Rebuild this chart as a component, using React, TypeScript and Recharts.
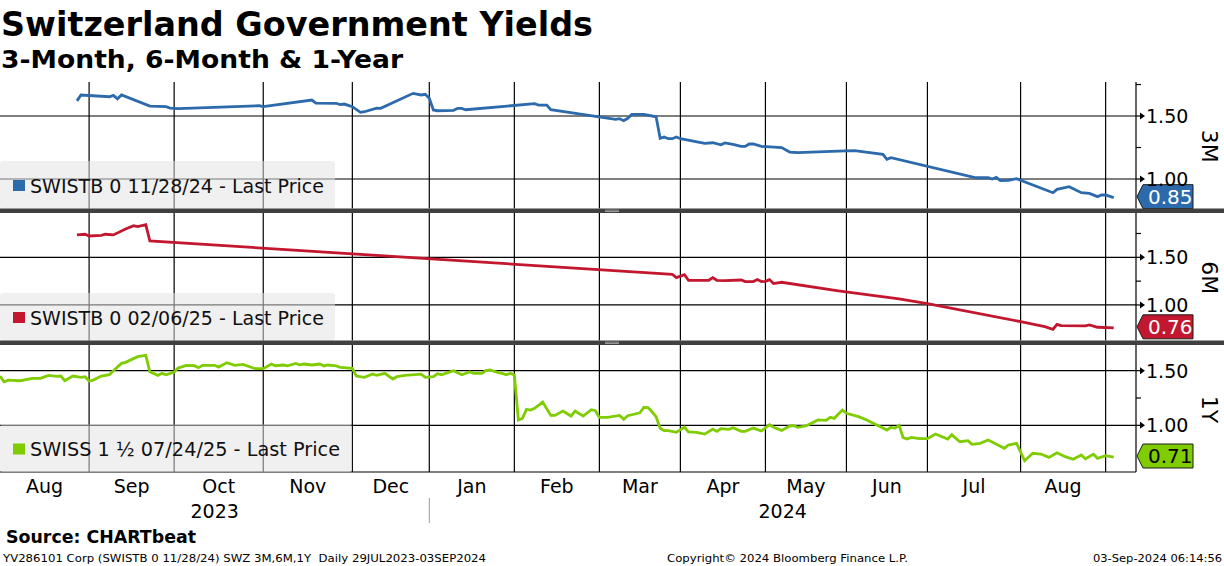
import { LineChart, Line, XAxis, YAxis, ReferenceLine } from "recharts";

const FONT = "'DejaVu Sans', Verdana, sans-serif";

// trading-day index (0 = 31 Jul 2023); first trading day of each month
const monthStarts = [0, 22, 43, 65, 87, 106, 127, 148, 168, 189, 209, 229, 252, 273];
const monthNames = ["Aug", "Sep", "Oct", "Nov", "Dec", "Jan", "Feb", "Mar", "Apr", "May", "Jun", "Jul", "Aug"];
const yearStarts = [0, 106];
const yearNames = ["2023", "2024"];
const dayEnd = 280.5;

// SWISTB 0 11/28/24 (3M) - [trading day, yield]
const m3Points: [number, number][] = [
  [19, 1.62], [20, 1.667], [27, 1.653], [28, 1.664], [29, 1.637], [30, 1.667],
  [37, 1.579], [41, 1.574], [42, 1.563], [44, 1.558], [64, 1.582], [65, 1.574],
  [77, 1.627], [78, 1.603], [83, 1.601], [84, 1.59], [85, 1.595], [87, 1.574],
  [89, 1.529], [90, 1.534], [93, 1.563], [94, 1.561], [102, 1.68], [104, 1.667],
  [105, 1.672], [106, 1.64], [107, 1.548], [108, 1.542], [112, 1.545], [113, 1.561],
  [114, 1.561], [115, 1.55], [132, 1.598], [133, 1.587], [135, 1.587], [136, 1.55],
  [152, 1.474], [153, 1.479], [154, 1.463], [155, 1.482], [156, 1.513], [159, 1.513],
  [162, 1.494], [163, 1.323], [164, 1.333], [165, 1.32], [166, 1.32], [167, 1.333],
  [168, 1.32], [174, 1.283], [176, 1.288], [178, 1.272], [179, 1.286], [181, 1.275],
  [183, 1.259], [184, 1.259], [185, 1.278], [186, 1.278], [188, 1.259], [193, 1.249],
  [195, 1.214], [197, 1.209], [207, 1.222], [211, 1.225], [218, 1.196], [219, 1.156],
  [220, 1.169], [241, 1.01], [244, 1.01], [245, 1.0], [246, 1.013], [247, 0.987],
  [249, 0.99], [251, 1.003], [260, 0.891], [261, 0.918], [264, 0.939], [267, 0.891],
  [269, 0.886], [271, 0.86], [272, 0.873], [273, 0.873], [275, 0.852],
];

// SWISTB 0 02/06/25 (6M)
const m6Points: [number, number][] = [
  [19, 1.735], [21, 1.742], [22, 1.724], [25, 1.731], [26, 1.742], [28, 1.735],
  [31, 1.797], [33, 1.832], [34, 1.822], [36, 1.843], [37, 1.672], [166, 1.322],
  [167, 1.287], [169, 1.318], [170, 1.259], [175, 1.259], [176, 1.287], [177, 1.259],
  [179, 1.255], [183, 1.262], [184, 1.245], [186, 1.245], [187, 1.266], [188, 1.245],
  [189, 1.248], [190, 1.266], [191, 1.224], [193, 1.238], [207, 1.147], [222, 1.063],
  [229, 1.014], [252, 0.825], [258, 0.772], [260, 0.745], [261, 0.797], [262, 0.783],
  [268, 0.78], [269, 0.79], [271, 0.766], [275, 0.76],
];

// SWISS 1 1/2 07/24/25 (1Y)
const y1Points: [number, number][] = [
  [0, 1.451], [1, 1.399], [2, 1.414], [5, 1.408], [8, 1.43], [10, 1.43], [12, 1.457],
  [14, 1.448], [15, 1.451], [16, 1.408], [18, 1.451], [20, 1.439], [21, 1.445],
  [22, 1.405], [23, 1.414], [25, 1.451], [27, 1.463], [28, 1.5], [30, 1.567],
  [31, 1.576], [34, 1.628], [36, 1.64], [37, 1.49], [39, 1.457], [40, 1.476],
  [41, 1.463], [43, 1.488], [44, 1.524], [46, 1.549], [48, 1.546], [49, 1.527],
  [50, 1.549], [53, 1.549], [54, 1.533], [56, 1.573], [58, 1.549], [60, 1.558],
  [63, 1.518], [65, 1.518], [67, 1.561], [68, 1.545], [70, 1.552], [71, 1.545],
  [73, 1.567], [74, 1.554], [75, 1.561], [77, 1.552], [79, 1.561], [80, 1.543],
  [81, 1.552], [83, 1.543], [84, 1.531], [87, 1.521], [88, 1.451], [90, 1.439],
  [92, 1.469], [93, 1.457], [95, 1.476], [97, 1.424], [98, 1.445], [100, 1.457],
  [104, 1.469], [105, 1.439], [107, 1.445], [108, 1.472], [109, 1.463], [110, 1.476],
  [112, 1.5], [114, 1.463], [116, 1.488], [117, 1.476], [119, 1.476], [120, 1.5],
  [121, 1.506], [123, 1.482], [124, 1.476], [125, 1.463], [126, 1.476], [127, 1.46],
  [128, 1.049], [129, 1.064], [130, 1.146], [131, 1.14], [132, 1.156], [134, 1.213],
  [136, 1.091], [137, 1.091], [139, 1.131], [141, 1.085], [142, 1.131], [144, 1.085],
  [146, 1.143], [147, 1.134], [148, 1.073], [150, 1.073], [153, 1.091], [154, 1.055],
  [155, 1.088], [158, 1.115], [159, 1.165], [160, 1.162], [161, 1.124], [162, 1.079],
  [163, 0.973], [164, 0.951], [165, 0.951], [167, 0.936], [169, 0.984], [170, 0.939],
  [172, 0.936], [174, 0.92], [176, 0.966], [177, 0.945], [178, 0.969], [180, 0.963],
  [181, 0.978], [183, 0.945], [184, 0.945], [186, 0.975], [188, 0.948], [190, 1.006],
  [191, 0.982], [193, 0.954], [195, 0.994], [196, 0.997], [197, 0.982], [199, 0.994],
  [202, 1.049], [204, 1.046], [205, 1.073], [206, 1.064], [208, 1.14], [209, 1.11],
  [212, 1.079], [214, 1.049], [217, 0.994], [219, 0.957], [220, 0.982], [221, 0.975],
  [222, 1.0], [223, 0.887], [224, 0.875], [225, 0.89], [227, 0.878], [229, 0.878],
  [231, 0.92], [234, 0.875], [235, 0.914], [237, 0.85], [239, 0.86], [240, 0.826],
  [242, 0.835], [244, 0.866], [248, 0.79], [249, 0.82], [251, 0.835], [253, 0.676],
  [255, 0.744], [257, 0.737], [259, 0.707], [261, 0.749], [263, 0.713], [265, 0.689],
  [267, 0.728], [268, 0.694], [270, 0.735], [271, 0.698], [273, 0.722], [275, 0.71],
];

const majorTicks = [1.0, 1.5];

const monthBounds = monthStarts.slice(1);
const monthMids = monthNames.map((_, i) => (monthStarts[i] + monthStarts[i + 1]) / 2);
const yearMids = yearStarts.map((s, i) => (s + (yearStarts[i + 1] ?? dayEnd)) / 2);

const W = 1224;
const AXIS_W = 88;
const BOTTOM_AXES = 54;

type Panel = {
  name: string;
  legend: string;
  color: string;
  badgeText: string;
  points: [number, number][];
  domain: [number, number];
  minor: number[];
  top: number;
  plotH: number;
  legendW: number;
  legendTextW: number;
};

const panels: Panel[] = [
  {
    name: "3M",
    legend: "SWISTB 0 11/28/24 - Last Price",
    color: "#2c6aac",
    badgeText: "#fff",
    points: m3Points,
    domain: [0.766, 1.77],
    minor: [1.25, 1.75],
    top: 82,
    plotH: 126.5,
    legendW: 335,
    legendTextW: 294,
  },
  {
    name: "6M",
    legend: "SWISTB 0 02/06/25 - Last Price",
    color: "#c2172f",
    badgeText: "#fff",
    points: m6Points,
    domain: [0.627, 1.965],
    minor: [1.25, 1.75],
    top: 213,
    plotH: 127.5,
    legendW: 335,
    legendTextW: 294,
  },
  {
    name: "1Y",
    legend: "SWISS 1 \u00bd 07/24/25 - Last Price",
    color: "#7fcc00",
    badgeText: "#000",
    points: y1Points,
    domain: [0.573, 1.735],
    minor: [1.25],
    top: 345,
    plotH: 127,
    legendW: 352,
    legendTextW: 310,
  },
];

function makeYTick(p: Panel, last: number) {
  return (props: any) => {
    const { x, y, payload } = props;
    const v = payload.value as number;
    if (v === last) {
      return (
        <g>
          <polygon
            points={`${x + 1},${y - 1} ${x + 7},${y - 13} ${x + 57},${y - 13} ${x + 57},${y + 11} ${x + 7},${y + 11}`}
            fill={p.color}
            stroke="#1b1b1b"
            strokeWidth={1}
          />
          <text x={x + 12} y={y + 6} fontSize={20} fill={p.badgeText} fontFamily={FONT}>
            {v.toFixed(2)}
          </text>
        </g>
      );
    }
    if (majorTicks.includes(v)) {
      return (
        <g>
          <line x1={x} y1={y} x2={x + 5} y2={y} stroke="#000" strokeWidth={1.2} />
          <polygon points={`${x + 4},${y - 3.5} ${x + 9},${y} ${x + 4},${y + 3.5}`} fill="#000" />
          <text x={x + 10} y={y + 7} fontSize={19} fill="#000" fontFamily={FONT}>
            {v.toFixed(2)}
          </text>
        </g>
      );
    }
    return <line x1={x} y1={y} x2={x + 5} y2={y} stroke="#000" strokeWidth={1.2} />;
  };
}

const MonthTick = (props: any) => {
  const { x, y, index } = props;
  return (
    <text x={x} y={y + 17} textAnchor="middle" fontSize={19} fill="#000" fontFamily={FONT}>
      {monthNames[index]}
    </text>
  );
};

const YearTick = (props: any) => {
  const { x, y, payload } = props;
  const yi = yearStarts.indexOf(payload.value);
  if (yi > 0) {
    return <line x1={x} y1={y - 2} x2={x} y2={y + 23} stroke="#999" strokeWidth={1} />;
  }
  const mi = yearMids.indexOf(payload.value);
  return (
    <text x={x} y={y + 18} textAnchor="middle" fontSize={19} fill="#000" fontFamily={FONT}>
      {yearNames[mi]}
    </text>
  );
};

function PanelChart({ p, bottom }: { p: Panel; bottom: boolean }) {
  const data = p.points.map(([day, v]) => ({ day, v }));
  const last = p.points[p.points.length - 1][1];
  const height = p.plotH + (bottom ? BOTTOM_AXES : 0);
  const yTicks = [last, ...majorTicks, ...p.minor];
  return (
    <div style={{ position: "absolute", left: 0, top: p.top, width: W, height }}>
      <LineChart width={W} height={height} data={data} margin={{ top: 0, right: 0, bottom: 0, left: 0 }}>
        <XAxis
          xAxisId="main"
          dataKey="day"
          type="number"
          domain={[0, dayEnd]}
          allowDataOverflow
          hide={!bottom}
          ticks={monthBounds}
          interval={0}
          tick={false}
          tickSize={4}
          height={4}
          axisLine={{ stroke: "#000", strokeWidth: 1.2 }}
          tickLine={{ stroke: "#000", strokeWidth: 1.2 }}
        />
        {bottom && (
          <XAxis
            xAxisId="month"
            dataKey="day"
            type="number"
            domain={[0, dayEnd]}
            allowDataOverflow
            ticks={monthMids}
            interval={0}
            axisLine={false}
            tickLine={false}
            tickSize={0}
            tickMargin={0}
            height={24}
            tick={MonthTick}
          />
        )}
        {bottom && (
          <XAxis
            xAxisId="year"
            dataKey="day"
            type="number"
            domain={[0, dayEnd]}
            allowDataOverflow
            ticks={[...yearMids, ...yearStarts.slice(1)]}
            interval={0}
            axisLine={false}
            tickLine={false}
            tickSize={0}
            tickMargin={0}
            height={26}
            tick={YearTick}
          />
        )}
        <YAxis
          orientation="right"
          width={AXIS_W}
          type="number"
          domain={p.domain}
          allowDataOverflow
          ticks={yTicks}
          interval={0}
          tickSize={0}
          tickMargin={0}
          tickLine={false}
          axisLine={{ stroke: "#000", strokeWidth: 1.2 }}
          tick={makeYTick(p, last)}
        />
        {monthBounds.map((b) => (
          <ReferenceLine key={`v${b}`} xAxisId="main" x={b} stroke="#000" strokeWidth={1.2} />
        ))}
        {majorTicks.map((v) => (
          <ReferenceLine key={`h${v}`} xAxisId="main" y={v} stroke="#000" strokeWidth={1.2} />
        ))}
        <Line
          xAxisId="main"
          type="linear"
          dataKey="v"
          name={p.legend}
          stroke={p.color}
          strokeWidth={2.8}
          dot={false}
          isAnimationActive={false}
        />
      </LineChart>
    </div>
  );
}

export default function App() {
  return (
    <div
      style={{
        position: "absolute",
        left: 0,
        top: 0,
        width: W,
        height: 566,
        background: "#fff",
        fontFamily: FONT,
        overflow: "hidden",
      }}
    >
      {panels.map((p, i) => (
        <PanelChart key={p.name} p={p} bottom={i === panels.length - 1} />
      ))}

      <svg
        width={W}
        height={566}
        style={{ position: "absolute", left: 0, top: 0, pointerEvents: "none", fontFamily: FONT }}
      >
        <text x={1} y={36} fontSize={33} fontWeight="bold" textLength={592} lengthAdjust="spacingAndGlyphs">
          Switzerland Government Yields
        </text>
        <text x={1} y={68} fontSize={25} fontWeight="bold" textLength={402} lengthAdjust="spacingAndGlyphs">
          {"3-Month, 6-Month & 1-Year"}
        </text>

        {panels.map((p) => {
          const bottomY = p.top + p.plotH;
          const boxTop = bottomY - 47.5;
          return (
            <g key={`lg${p.name}`}>
              <rect x={0} y={boxTop} width={p.legendW} height={47.5} rx={3} fill="rgba(226,226,226,0.53)" />
              <rect x={13} y={boxTop + 19} width={12} height={11} fill={p.color} />
              <text
                x={30}
                y={boxTop + 31.5}
                fontSize={19}
                fill="#111"
                textLength={p.legendTextW}
                lengthAdjust="spacingAndGlyphs"
              >
                {p.legend}
              </text>
            </g>
          );
        })}

        {[208.5, 340.5].map((y) => (
          <g key={`sep${y}`}>
            <rect x={0} y={y} width={W} height={4.5} fill="#404040" />
            <line x1={605} x2={619} y1={y + 1.6} y2={y + 1.6} stroke="#b0b0b0" strokeWidth={0.8} />
            <line x1={605} x2={619} y1={y + 3} y2={y + 3} stroke="#b0b0b0" strokeWidth={0.8} />
          </g>
        ))}

        {panels.map((p) => (
          <text
            key={`pl${p.name}`}
            transform={`translate(1210, ${p.top + p.plotH / 2 + 1}) rotate(90)`}
            textAnchor="middle"
            dy="0.36em"
            fontSize={22}
            fill="#000"
          >
            {p.name}
          </text>
        ))}

        <text x={6} y={543} fontSize={17} fontWeight="bold" textLength={190} lengthAdjust="spacingAndGlyphs">
          Source:  CHARTbeat
        </text>
        <text
          x={3}
          y={562}
          fontSize={11}
          textLength={483}
          lengthAdjust="spacingAndGlyphs"
          style={{ whiteSpace: "pre" }}
        >
          {"YV286101 Corp (SWISTB 0 11/28/24) SWZ 3M,6M,1Y  Daily 29JUL2023-03SEP2024"}
        </text>
        <text x={667} y={562} fontSize={11} textLength={241} lengthAdjust="spacingAndGlyphs">
          {"Copyright\u00a9 2024 Bloomberg Finance L.P."}
        </text>
        <text x={1222} y={562} fontSize={11} textAnchor="end" textLength={129} lengthAdjust="spacingAndGlyphs">
          03-Sep-2024 06:14:56
        </text>
      </svg>
    </div>
  );
}
